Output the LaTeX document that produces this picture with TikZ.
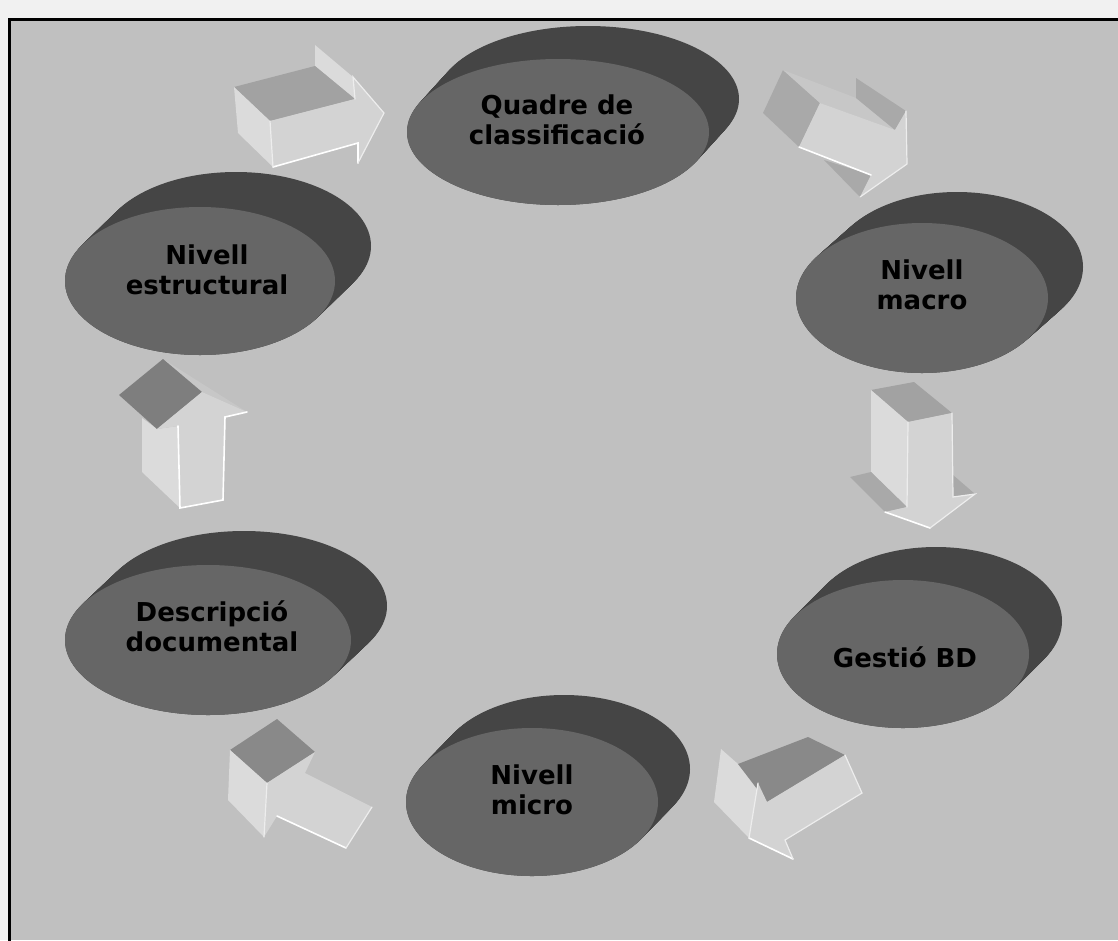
\documentclass[tikz,border=0pt]{standalone}
\usepackage{fontspec}
\setmainfont{DejaVu Sans}
\usetikzlibrary{shapes.geometric}
\definecolor{bg}{HTML}{C0C0C0}
\definecolor{strip}{HTML}{F1F1F1}
\definecolor{disc}{HTML}{666666}
\definecolor{rim}{HTML}{454545}
\definecolor{face}{HTML}{D3D3D3}
\definecolor{sideface}{HTML}{DBDBDB}
\definecolor{topmid}{HTML}{A2A2A2}
\definecolor{topdark}{HTML}{898989}
\definecolor{shad}{HTML}{A9A9A9}
\definecolor{faint}{HTML}{C7C7C7}
\tikzset{
  lbl/.style={font=\bfseries\fontsize{26}{30}\selectfont, align=center, text=black, inner sep=0pt},
  frontdisc/.style={ellipse, fill=disc, inner sep=0pt, outer sep=0pt},
  hl/.style={draw=white, line width=1.6pt, line cap=round},
  hlsoft/.style={draw=white!60!face, line width=1.2pt, line cap=round},
}
% #1 name, #2 cx, #3 cy, #4 rx, #5 ry, #6 dx, #7 dy
\newcommand\mydisc[7]{%
  \foreach \i in {0,...,30}{%
    \fill[rim] ({#2+#6*(30-\i)/30},{#3+#7*(30-\i)/30}) ellipse [x radius=#4pt, y radius=#5pt];
  }
  \node[frontdisc, minimum width={2*#4pt}, minimum height={2*#5pt}] (#1) at (#2,#3) {};
}
\begin{document}
\begin{tikzpicture}[x=1pt,y=-1pt]
\useasboundingbox (0,0) rectangle (1118,940);
\fill[strip] (0,0) rectangle (1118,940);
\fill[bg] (9,19) rectangle (1118,940);
\draw[line width=3pt] (9,942) -- (9,19) -- (1120,19);

% discs
\mydisc{q}{558}{132}{151}{73}{30}{-33}
\mydisc{m}{922}{298}{126}{75}{35}{-31}
\mydisc{g}{903}{654}{126}{74}{33}{-33}
\mydisc{mi}{532}{802}{126}{74}{32}{-33}
\mydisc{d}{208}{640}{143}{75}{36}{-34}
\mydisc{e}{200}{281}{135}{74}{36}{-35}

\node[lbl] (lq) at (557,120) {Quadre de\\classificació};
\node[lbl] (lm) at (922,285) {Nivell\\macro};
\node[lbl] (lg) at (905,657) {Gestió BD};
\node[lbl] (lmi) at (532,790) {Nivell\\micro};
\node[lbl] (ld) at (212,626) {Descripció\\documental};
\node[lbl] (le) at (207,270) {Nivell\\estructural};

% arrow 1: estructural -> quadre
\fill[sideface] (315,45) -- (353,77) -- (355,99) -- (315,66) -- cycle;
\fill[topmid] (234,87) -- (315,66) -- (355,99) -- (270,121) -- cycle;
\fill[sideface] (234,87) -- (270,121) -- (273,167) -- (238,133) -- cycle;
\fill[face] (270,121) -- (355,99) -- (353,77) -- (384,113) -- (358,163) -- (358,143) -- (273,167) -- cycle;
\draw[hl] (273,167) -- (358,143) -- (358,163);
\draw[hlsoft] (270,121) -- (273,167);
\draw[hlsoft] (355,99) -- (353,77) -- (384,113) -- (358,163);

% arrow 2: quadre -> macro
\fill[shad] (783,70) -- (820,103) -- (799,147) -- (763,113) -- cycle;
\fill[faint] (783,70) -- (856,98) -- (895,130) -- (820,103) -- cycle;
\fill[shad] (856,78) -- (906,111) -- (895,130) -- (856,98) -- cycle;
\fill[shad] (824,160) -- (871,175) -- (860,197) -- cycle;
\fill[face] (820,103) -- (895,130) -- (906,111) -- (907,164) -- (860,197) -- (871,175) -- (799,147) -- cycle;
\draw[hl] (799,147) -- (871,175);
\draw[hlsoft] (906,111) -- (907,164) -- (860,197);

% arrow 3: macro -> gestio
\fill[topmid] (871,390) -- (914,382) -- (952,413) -- (908,422) -- cycle;
\fill[sideface] (871,390) -- (908,422) -- (907,507) -- (871,472) -- cycle;
\fill[shad] (850,477) -- (871,472) -- (907,507) -- (885,512) -- cycle;
\fill[shad] (953,475) -- (975,494) -- (953,497) -- cycle;
\fill[face] (908,422) -- (952,413) -- (953,497) -- (975,494) -- (930,528) -- (885,512) -- (907,507) -- cycle;
\draw[hl] (885,512) -- (930,528);
\draw[hlsoft] (908,422) -- (907,507);
\draw[hlsoft] (952,413) -- (953,497) -- (975,494) -- (930,528);

% arrow 4: gestio -> micro
\fill[sideface] (721,749) -- (738,764) -- (758,783) -- (749,838) -- (714,802) -- cycle;
\fill[topdark] (738,764) -- (808,737) -- (845,755) -- (767,802) -- cycle;
\fill[face] (767,802) -- (845,755) -- (862,793) -- (785,840) -- (793,859) -- (749,838) -- (758,783) -- cycle;
\draw[hl] (749,838) -- (793,859);
\draw[hlsoft] (758,783) -- (749,838);
\draw[hlsoft] (845,755) -- (862,793) -- (785,840) -- (793,859);

% arrow 5: micro -> descripcio
\fill[topdark] (230,750) -- (277,719) -- (315,752) -- (267,783) -- cycle;
\fill[sideface] (230,750) -- (267,783) -- (264,837) -- (228,800) -- cycle;
\fill[face] (267,783) -- (315,752) -- (305,773) -- (372,807) -- (346,848) -- (277,816) -- (264,837) -- cycle;
\draw[hl] (277,816) -- (346,848);
\draw[hlsoft] (267,783) -- (264,837);
\draw[hlsoft] (372,807) -- (346,848);

% arrow 6: descripcio -> estructural
\fill[faint] (163,359) -- (247,412) -- (202,392) -- cycle;
\fill[sideface] (142,418) -- (157,429) -- (178,426) -- (180,508) -- (142,472) -- cycle;
\fill[topdark!92!black] (119,395) -- (163,359) -- (202,392) -- (157,429) -- cycle;
\fill[face] (157,429) -- (202,392) -- (247,412) -- (225,417) -- (223,500) -- (180,508) -- (178,426) -- cycle;
\draw[hl] (178,426) -- (180,508) -- (223,500) -- (225,417) -- (247,412);
\end{tikzpicture}
\end{document}
